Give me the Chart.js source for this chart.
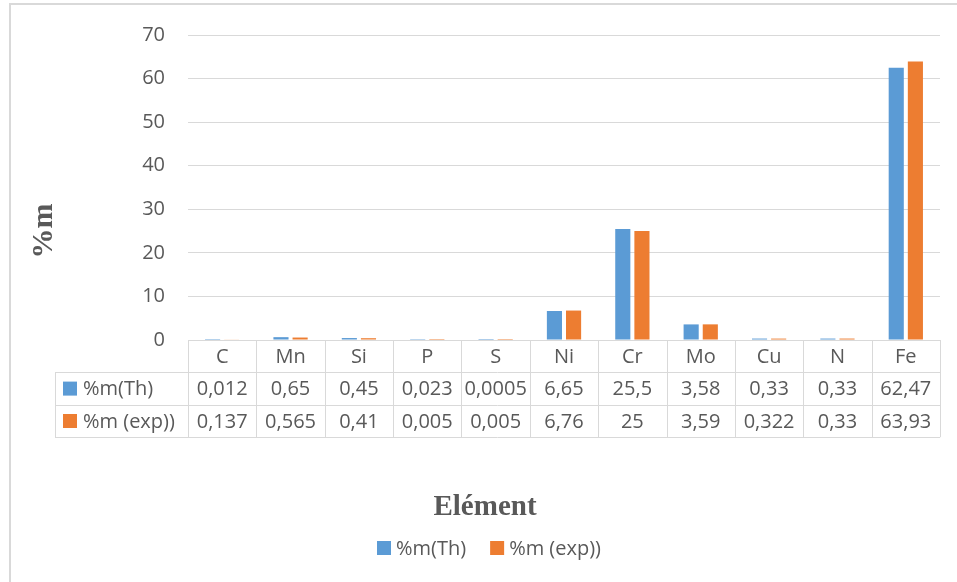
<!DOCTYPE html>
<html>
<head>
<meta charset="utf-8">
<script src="https://cdn.jsdelivr.net/npm/chart.js@4"></script>
<style>
  html, body { margin: 0; padding: 0; background: #fff; }
  #wrap { width: 957px; height: 582px; }
</style>
</head>
<body>
<div id="wrap"><canvas id="myChart" width="957" height="582"></canvas></div>
<script>
// Categories
let elements = ['C', 'Mn', 'Si', 'P', 'S', 'Ni', 'Cr', 'Mo', 'Cu', 'N', 'Fe'];
// Values
let massTh = [0.012, 0.65, 0.45, 0.023, 0.0005, 6.65, 25.5, 3.58, 0.33, 0.33, 62.47];
let massExp = [0.137, 0.565, 0.41, 0.005, 0.005, 6.76, 25, 3.59, 0.322, 0.33, 63.93];
// Series names
let seriesNames = ['%m(Th)', '%m (exp))'];
// Display colours
let colors = ['#5B9BD5', '#ED7D31'];
// y tick labels
let yTicks = [0, 10, 20, 30, 40, 50, 60, 70];

let textColor = '#595959';
let lineColor = '#D9D9D9';
let sans = '"Open Sans", sans-serif';
let serif = '"Liberation Serif", serif';

function fmt(v) {
    return String(v).replace('.', ',');
}

// draws the frame, the data table, the axis titles and the legend
let tablePlugin = {
    id: 'excelTable',
    afterDraw: function (chart) {
        let ctx = chart.ctx;
        let area = chart.chartArea;
        let xs = chart.scales.x;
        let n = elements.length;
        let colW = (area.right - area.left) / n;
        let rowH = 32.4;
        let top = area.bottom;
        let labelLeft = 55;

        ctx.save();
        // outer frame
        ctx.strokeStyle = lineColor;
        ctx.lineWidth = 2;
        ctx.strokeRect(10, 4, 1000, 1000);

        // table grid
        ctx.lineWidth = 1;
        ctx.beginPath();
        ctx.moveTo(area.left, top + 0.5);
        ctx.lineTo(area.right, top + 0.5);
        for (let r = 1; r <= 3; r++) {
            let y = Math.round(top + r * rowH) + 0.5;
            ctx.moveTo(labelLeft, y);
            ctx.lineTo(area.right, y);
        }
        ctx.moveTo(labelLeft + 0.5, top + rowH);
        ctx.lineTo(labelLeft + 0.5, top + 3 * rowH);
        for (let i = 0; i <= n; i++) {
            let x = Math.round(xs.getPixelForValue(i) - colW / 2) + 0.5;
            ctx.moveTo(x, top);
            ctx.lineTo(x, top + 3 * rowH);
        }
        ctx.stroke();

        // table texts
        ctx.fillStyle = textColor;
        ctx.font = '20px ' + sans;
        ctx.textAlign = 'center';
        ctx.textBaseline = 'middle';
        let rows = [elements, massTh.map(fmt), massExp.map(fmt)];
        rows.forEach(function (row, r) {
            let y = top + r * rowH + rowH / 2 + 1;
            row.forEach(function (txt, i) {
                ctx.fillText(txt, xs.getPixelForValue(i), y);
            });
        });
        // row headers
        ctx.textAlign = 'left';
        seriesNames.forEach(function (name, s) {
            let y = top + (s + 1) * rowH + rowH / 2;
            ctx.fillStyle = colors[s];
            ctx.fillRect(63, y - 7, 14, 14);
            ctx.fillStyle = textColor;
            ctx.fillText(name, 83, y + 1);
        });

        // y title
        ctx.save();
        ctx.translate(44, 231);
        ctx.rotate(-Math.PI / 2);
        ctx.textAlign = 'center';
        ctx.font = 'bold 30px ' + serif;
        ctx.fillText('%m', 0, 0);
        ctx.restore();

        // x title
        ctx.textAlign = 'center';
        ctx.font = 'bold 29px ' + serif;
        ctx.fillText('Elément', 485, 508);

        // legend
        ctx.font = '20px ' + sans;
        ctx.textAlign = 'left';
        let lx = 377;
        seriesNames.forEach(function (name, s) {
            ctx.fillStyle = colors[s];
            ctx.fillRect(lx, 541, 14, 14);
            ctx.fillStyle = textColor;
            ctx.fillText(name, lx + 19, 549);
            lx += 19 + ctx.measureText(name).width + 24;
        });
        ctx.restore();
    }
};

let myChart = document.getElementById('myChart').getContext('2d');

let chart = new Chart(myChart, {
    type: 'bar',
    data: {
        labels: elements,
        datasets: [{
            label: seriesNames[0],
            data: massTh,
            backgroundColor: colors[0]
        }, {
            label: seriesNames[1],
            data: massExp,
            backgroundColor: colors[1]
        }]
    },
    options: {
        responsive: false,
        animation: false,
        layout: {
            padding: { top: 23, right: 17, bottom: 242, left: 0 }
        },
        datasets: {
            bar: { categoryPercentage: 0.56, barPercentage: 0.79 }
        },
        plugins: {
            legend: { display: false },
            tooltip: { enabled: false }
        },
        scales: {
            x: { display: false },
            y: {
                min: 0,
                max: 70,
                afterBuildTicks: function (scale) {
                    scale.ticks = yTicks.map(function (v) { return { value: v }; });
                },
                afterFit: function (scale) {
                    scale.width = 188;
                },
                border: { display: false },
                grid: { color: lineColor, drawTicks: false },
                ticks: {
                    color: textColor,
                    font: { family: sans, size: 20 },
                    padding: 23
                }
            }
        }
    },
    plugins: [tablePlugin]
});
</script>
</body>
</html>
